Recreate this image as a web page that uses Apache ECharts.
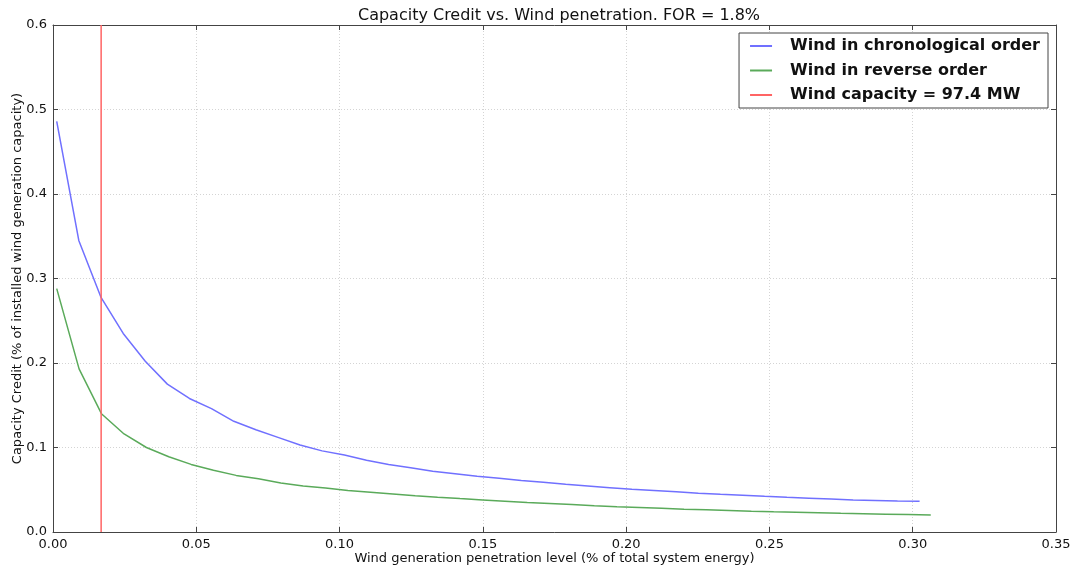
<!DOCTYPE html>
<html>
<head>
<meta charset="utf-8">
<script src="https://cdn.jsdelivr.net/npm/echarts@6/dist/echarts.min.js"></script>
<style>html,body{margin:0;padding:0;background:#fff}#c{width:1073px;height:570px}</style>
</head>
<body>
<div id="c"></div>
<script>
const titleText = 'Capacity Credit vs. Wind penetration. FOR = 1.8%';
const xTickLabels = ['0.00','0.05','0.10','0.15','0.20','0.25','0.30','0.35'];
const yTickLabels = ['0.0','0.1','0.2','0.3','0.4','0.5','0.6'];
const seriesNames = ['Wind in chronological order','Wind in reverse order','Wind capacity = 97.4 MW'];

const chronoX = [0.0013,0.0090,0.0167,0.0245,0.0322,0.0399,0.0476,0.0553,0.0631,0.0708,0.0785,0.0862,0.0939,0.1017,0.1094,0.1171,0.1248,0.1325,0.1403,0.1480,0.1557,0.1634,0.1711,0.1789,0.1866,0.1943,0.2020,0.2097,0.2175,0.2252,0.2329,0.2406,0.2483,0.2561,0.2638,0.2715,0.2792,0.2869,0.2947,0.3024];
const chronoY = [0.486,0.345,0.278,0.235,0.202,0.175,0.158,0.146,0.131,0.121,0.112,0.103,0.096,0.091,0.085,0.080,0.076,0.072,0.069,0.066,0.0635,0.061,0.0588,0.0565,0.0545,0.0525,0.0505,0.049,0.0475,0.046,0.0447,0.0435,0.0422,0.041,0.040,0.039,0.038,0.0374,0.0368,0.0363];

const reverseX = [0.0013,0.0091,0.0169,0.0248,0.0326,0.0404,0.0482,0.0560,0.0639,0.0717,0.0795,0.0873,0.0951,0.1029,0.1108,0.1186,0.1264,0.1342,0.1420,0.1499,0.1577,0.1655,0.1733,0.1811,0.1889,0.1968,0.2046,0.2124,0.2202,0.2280,0.2359,0.2437,0.2515,0.2593,0.2671,0.2749,0.2828,0.2906,0.2984,0.3063];
const reverseY = [0.288,0.193,0.140,0.116,0.100,0.089,0.080,0.073,0.067,0.063,0.058,0.0545,0.052,0.049,0.047,0.045,0.043,0.0412,0.0395,0.038,0.0365,0.035,0.0338,0.0325,0.0312,0.0300,0.029,0.028,0.027,0.0262,0.0254,0.0246,0.0239,0.0233,0.0227,0.0221,0.0216,0.0211,0.0206,0.0201];

const windCapX = [0.0168,0.0168];
const windCapY = [0,0.6];

const zip = (xs, ys) => xs.map((x, i) => [x, ys[i]]);
const FONT = 'DejaVu Sans';
const colors = ['#7070ff','#5aaa5a','#ff6464'];
const FRAME = '#444';

const tickStyle = {show: true, inside: true, length: 5, lineStyle: {color: FRAME}};
const gridLine = {show: true, lineStyle: {color: '#d4d4d4', type: [1, 2], width: 1}};

const chart = echarts.init(document.getElementById('c'), null, {renderer: 'canvas'});
chart.setOption({
  animation: false,
  backgroundColor: '#fff',
  textStyle: {fontFamily: FONT},
  title: {
    text: titleText,
    left: 554, top: 3, textAlign: 'center',
    textStyle: {fontFamily: FONT, fontSize: 16, fontWeight: 'normal', color: '#111'}
  },
  legend: {
    orient: 'vertical',
    right: 25, top: 33,
    padding: [5, 8, 5, 11],
    itemGap: 8.5,
    itemWidth: 22, itemHeight: 2,
    borderColor: FRAME, borderWidth: 1,
    backgroundColor: '#fff',
    icon: 'rect',
    textStyle: {fontFamily: FONT, fontSize: 16, fontWeight: 'bold', color: '#111', padding: [0,0,0,13]},
    data: seriesNames
  },
  grid: {left: 53, right: 17, top: 25, bottom: 38, outerBoundsMode: 'none', containLabel: false},
  xAxis: [{
    type: 'value', min: 0, max: 0.35, interval: 0.05,
    name: 'Wind generation penetration level (% of total system energy)',
    nameLocation: 'middle', nameGap: 20, nameMoveOverlap: false,
    nameTextStyle: {fontFamily: FONT, fontSize: 13, color: '#111'},
    axisLine: {show: true, onZero: false, lineStyle: {color: FRAME}},
    axisTick: tickStyle,
    axisLabel: {fontFamily: FONT, fontSize: 13, color: '#111', margin: 6,
      formatter: (v) => xTickLabels[Math.round(v / 0.05)] || ''},
    splitLine: gridLine
  }, {
    type: 'value', position: 'top', min: 0, max: 0.35, interval: 0.05,
    axisLine: {show: true, onZero: false, lineStyle: {color: FRAME}},
    axisTick: tickStyle, axisLabel: {show: false}, splitLine: {show: false}
  }],
  yAxis: [{
    type: 'value', min: 0, max: 0.6, interval: 0.1,
    name: 'Capacity Credit (% of installed wind generation capacity)',
    nameLocation: 'middle', nameGap: 29, nameMoveOverlap: false,
    nameTextStyle: {fontFamily: FONT, fontSize: 13, color: '#111'},
    axisLine: {show: true, onZero: false, lineStyle: {color: FRAME}},
    axisTick: tickStyle,
    axisLabel: {fontFamily: FONT, fontSize: 13, color: '#111', margin: 6,
      formatter: (v) => yTickLabels[Math.round(v / 0.1)] || ''},
    splitLine: gridLine
  }, {
    type: 'value', position: 'right', min: 0, max: 0.6, interval: 0.1,
    axisLine: {show: true, onZero: false, lineStyle: {color: FRAME}},
    axisTick: tickStyle, axisLabel: {show: false}, splitLine: {show: false}
  }],
  series: [
    {name: seriesNames[0], type: 'line', data: zip(chronoX, chronoY), showSymbol: false, symbol: 'none',
     lineStyle: {color: colors[0], width: 1.5}, itemStyle: {color: colors[0]}},
    {name: seriesNames[1], type: 'line', data: zip(reverseX, reverseY), showSymbol: false, symbol: 'none',
     lineStyle: {color: colors[1], width: 1.5}, itemStyle: {color: colors[1]}},
    {name: seriesNames[2], type: 'line', data: zip(windCapX, windCapY), showSymbol: false, symbol: 'none',
     lineStyle: {color: colors[2], width: 1.5}, itemStyle: {color: colors[2]}}
  ]
});
</script>
</body>
</html>
